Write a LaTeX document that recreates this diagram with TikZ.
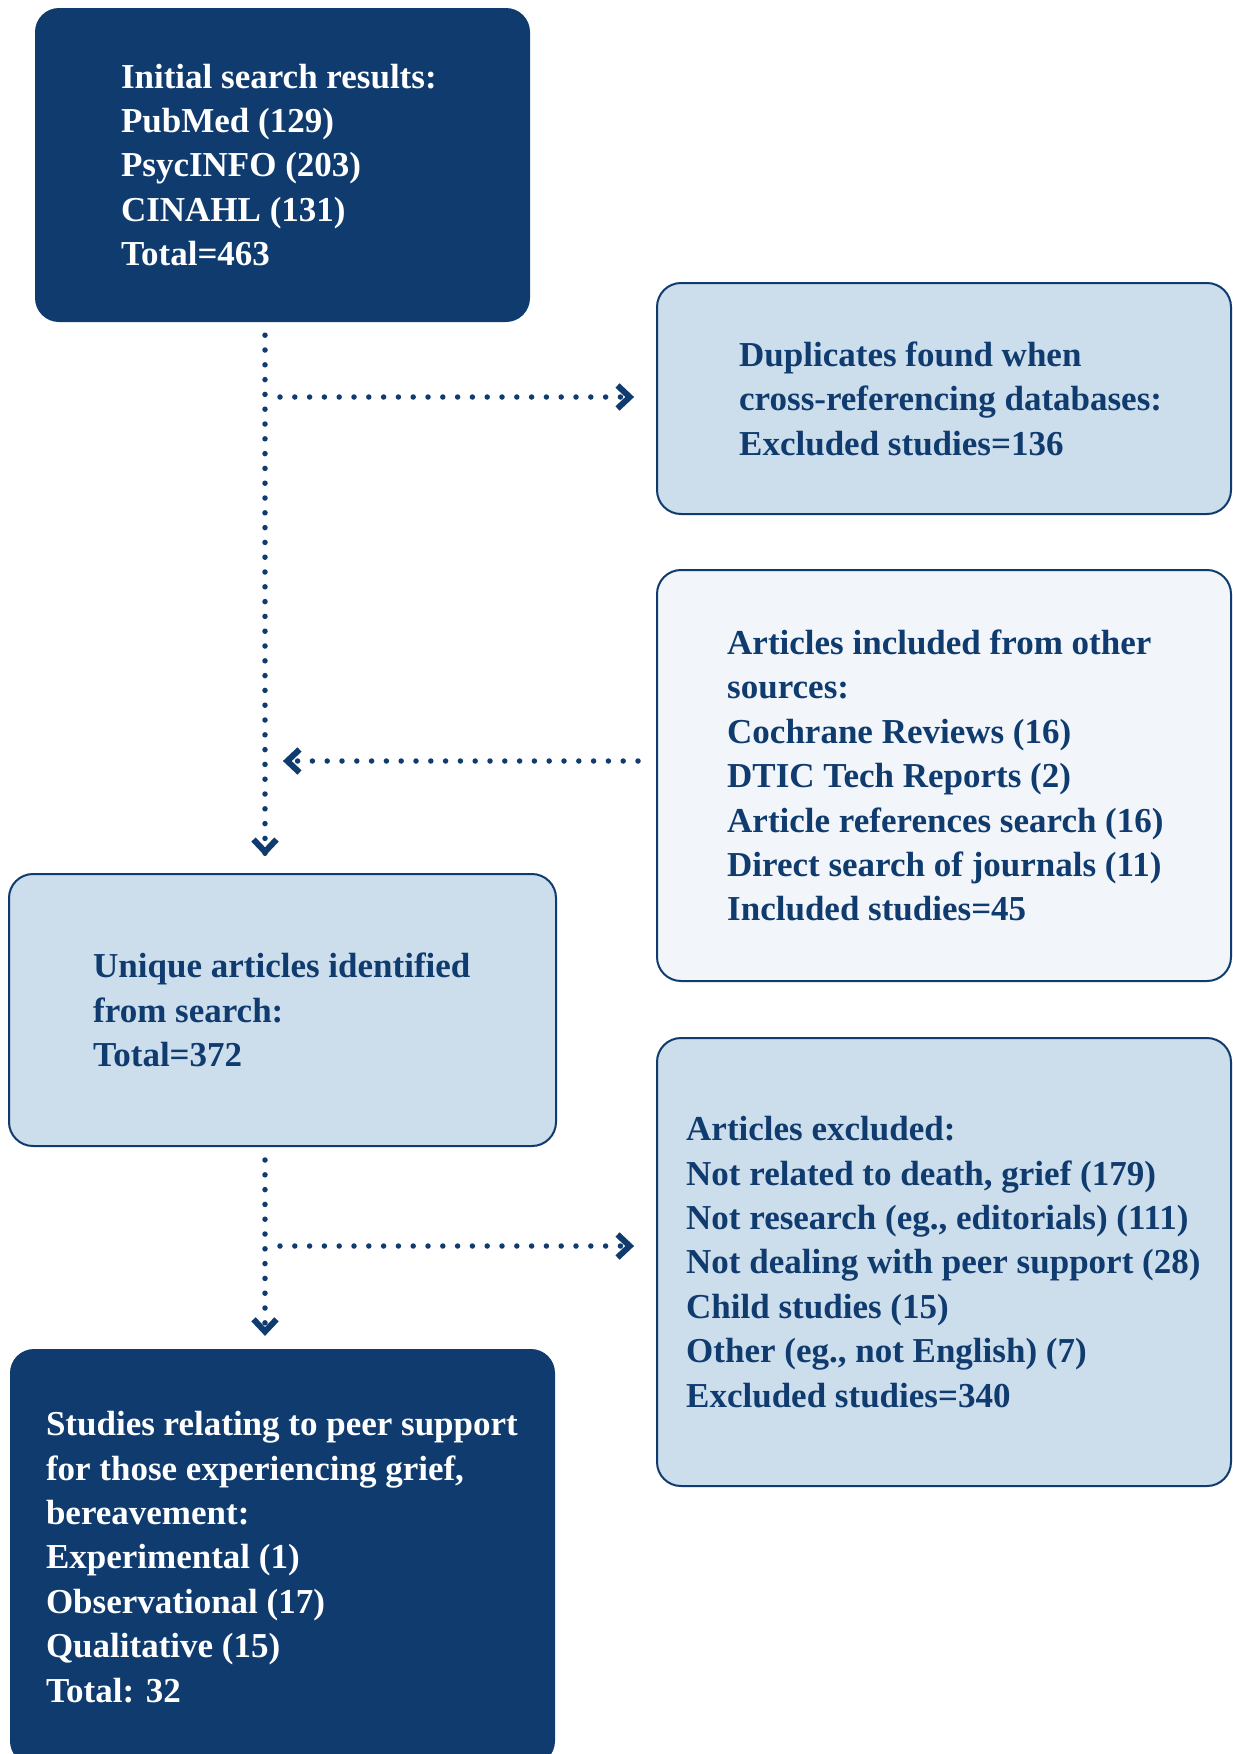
\documentclass[tikz,border=0pt]{standalone}
\usepackage{fontspec}
\setmainfont{Liberation Serif}
\usetikzlibrary{calc,decorations.markings}
\definecolor{navy}{HTML}{0F3B6F}
\definecolor{lightblue}{HTML}{CCDDEB}
\definecolor{paleblue}{HTML}{F2F6FA}
\begin{document}
\begin{tikzpicture}[x=1pt,y=-1pt,
  darkbox/.style={fill=navy, draw=none, rounded corners=24pt, inner sep=0pt},
  lightbox/.style={fill=lightblue, draw=navy, line width=2pt, rounded corners=24pt, inner sep=0pt},
  palebox/.style={fill=paleblue, draw=navy, line width=2pt, rounded corners=24pt, inner sep=0pt},
  txt/.style={anchor=west, align=left, inner sep=0pt, font=\fontsize{35}{44.4}\selectfont\bfseries},
  flow/.style={navy, line width=5.5pt, line cap=round, dash pattern=on 0pt off 14.8pt,
    postaction=decorate,
    decoration={markings, mark=at position 1 with {
      \draw[navy, solid, line width=6pt, line cap=butt, line join=miter]
        (-16.5pt,-11.5pt) -- (-4.3pt,0pt) -- (-16.5pt,11.5pt);}}}
]
\useasboundingbox (0,0) rectangle (1233,1754);
\fill[white] (0,0) rectangle (1233,1754);

% boxes
\node[darkbox, minimum width=495pt, minimum height=314pt] (b1) at (282.5,165) {};
\node[lightbox, minimum width=574pt, minimum height=231pt] (b2) at (944,398.5) {};
\node[palebox, minimum width=574pt, minimum height=411pt] (b3) at (944,775.5) {};
\node[lightbox, minimum width=547pt, minimum height=272pt] (b4) at (282.5,1010) {};
\node[lightbox, minimum width=574pt, minimum height=448pt] (b5) at (944,1262) {};
\node[darkbox, minimum width=545pt, minimum height=416pt] (b6) at (282.5,1557) {};

% texts
\node[txt, white] (t1) at ([xshift=86pt]b1.west) {Initial search results:\\PubMed (129)\\PsycINFO (203)\\CINAHL (131)\\Total=463};
\node[txt, navy] (t2) at ([xshift=83pt]b2.west) {Duplicates found when\\cross-referencing databases:\\Excluded studies=136};
\node[txt, navy] (t3) at ([xshift=71pt]b3.west) {Articles included from other\\sources:\\Cochrane Reviews (16)\\DTIC Tech Reports (2)\\Article references search (16)\\Direct search of journals (11)\\Included studies=45};
\node[txt, navy] (t4) at ([xshift=85pt]b4.west) {Unique articles identified\\from search:\\Total=372};
\node[txt, navy] (t5) at ([xshift=30pt]b5.west) {Articles excluded:\\Not related to death, grief (179)\\Not research (eg., editorials) (111)\\Not dealing with peer support (28)\\Child studies (15)\\Other (eg., not English) (7)\\Excluded studies=340};
\node[txt, white] (t6) at ([xshift=36pt]b6.west) {Studies relating to peer support\\for those experiencing grief,\\bereavement:\\Experimental (1)\\Observational (17)\\Qualitative (15)\\Total: 32};

% connectors
\coordinate (j1) at (280,397);
\coordinate (j2) at (283,761);
\coordinate (j3) at (280,1246);
\draw[flow] ($(b1.south)+(-17.5,13)$) -- ($(b4.north)+(-17.5,-17)$);
\draw[flow] (j1) -- ($(j1 -| b2.west)+(-22,0)$);
\draw[flow] ($(b3.west |- j2)+(-18,0)$) -- (j2);
\draw[flow] ($(b4.south)+(-17.5,13)$) -- ($(b6.north)+(-17.5,-13)$);
\draw[flow] (j3) -- ($(j3 -| b5.west)+(-22,0)$);
\end{tikzpicture}
\end{document}
